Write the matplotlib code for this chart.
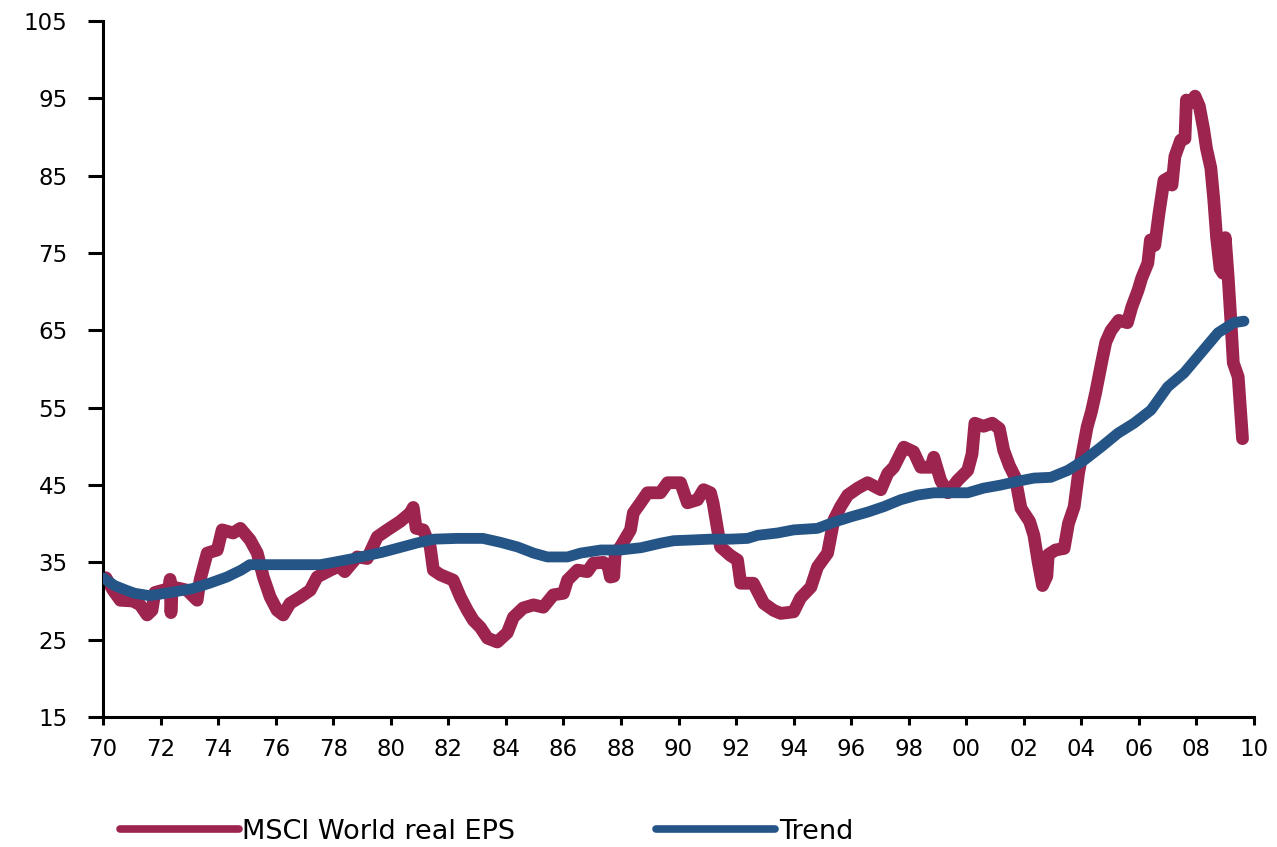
import matplotlib
matplotlib.use("Agg")
import matplotlib.pyplot as plt
from matplotlib.lines import Line2D

plt.rcParams['font.family'] = ['DejaVu Sans']

# MSCI World real EPS (year, value)
eps_year = [1970.0, 1970.1, 1970.35, 1970.6, 1971.04, 1971.29, 1971.53, 1971.7, 1971.8, 1972.09,
            1972.3, 1972.33, 1972.36, 1972.4, 1972.57, 1972.92, 1973.27, 1973.37, 1973.62, 1973.97,
            1974.14, 1974.52, 1974.77, 1975.11, 1975.36, 1975.57, 1975.81, 1976.05, 1976.26, 1976.5,
            1976.85, 1977.2, 1977.44, 1977.9, 1978.2, 1978.4, 1978.83, 1979.18, 1979.53, 1979.88,
            1980.33, 1980.68, 1980.78, 1980.88, 1981.13, 1981.37, 1981.48, 1981.72, 1982.17, 1982.42,
            1982.66, 1982.87, 1983.11, 1983.36, 1983.7, 1984.05, 1984.26, 1984.6, 1984.96, 1985.3,
            1985.65, 1986.0, 1986.14, 1986.49, 1986.83, 1987.04, 1987.39, 1987.55, 1987.63, 1987.75,
            1987.8, 1987.98, 1988.33, 1988.43, 1988.68, 1988.92, 1989.37, 1989.62, 1990.07, 1990.31,
            1990.66, 1990.87, 1991.11, 1991.2, 1991.46, 1991.8, 1992.05, 1992.16, 1992.6, 1992.96,
            1993.3, 1993.55, 1994.0, 1994.24, 1994.6, 1994.83, 1995.18, 1995.4, 1995.63, 1995.88,
            1996.23, 1996.57, 1997.03, 1997.27, 1997.48, 1997.83, 1998.17, 1998.42, 1998.77, 1998.87,
            1999.11, 1999.36, 1999.7, 2000.05, 2000.2, 2000.3, 2000.6, 2000.9, 2001.15, 2001.3,
            2001.5, 2001.7, 2001.9, 2002.2, 2002.35, 2002.5, 2002.65, 2002.8, 2002.85, 2003.1,
            2003.4, 2003.55, 2003.75, 2003.9, 2004.05, 2004.2, 2004.35, 2004.5, 2004.7, 2004.85,
            2005.03, 2005.3, 2005.6, 2005.75, 2005.97, 2006.1, 2006.31, 2006.4, 2006.55, 2006.7,
            2006.87, 2007.05, 2007.15, 2007.25, 2007.45, 2007.6, 2007.65, 2007.85, 2007.95, 2008.1,
            2008.25, 2008.35, 2008.5, 2008.6, 2008.7, 2008.82, 2008.92, 2009.0, 2009.1, 2009.2,
            2009.28, 2009.45, 2009.6]
eps_value = [33.0, 33.0, 31.4, 30.1, 30.0, 29.5, 28.2, 28.8, 31.1, 31.4,
             31.6, 32.8, 28.5, 31.5, 31.7, 31.4, 30.1, 32.7, 36.2, 36.6,
             39.2, 38.8, 39.4, 37.9, 36.2, 33.1, 30.5, 28.8, 28.2, 29.7,
             30.5, 31.4, 33.1, 34.0, 34.5, 33.8, 35.7, 35.5, 38.3, 39.2,
             40.3, 41.4, 42.1, 39.4, 39.2, 37.0, 34.0, 33.4, 32.7, 30.5,
             28.8, 27.5, 26.6, 25.2, 24.7, 25.9, 27.9, 29.1, 29.5, 29.2,
             30.8, 31.0, 32.7, 34.0, 33.8, 34.9, 35.0, 34.5, 33.1, 33.2,
             36.2, 37.0, 39.2, 41.4, 42.7, 44.0, 44.0, 45.3, 45.3, 42.7,
             43.1, 44.4, 44.0, 42.7, 37.0, 35.9, 35.3, 32.3, 32.3, 29.7,
             28.8, 28.4, 28.6, 30.4, 31.8, 34.4, 36.2, 40.5, 42.2, 43.7,
             44.6, 45.3, 44.4, 46.5, 47.3, 49.9, 49.3, 47.3, 47.3, 48.6,
             45.6, 44.0, 45.6, 46.9, 49.0, 53.0, 52.6, 53.0, 52.3, 49.5,
             47.5, 46.0, 42.0, 40.3, 38.5, 35.0, 32.0, 33.2, 36.0, 36.6,
             36.8, 40.0, 42.2, 46.5, 49.5, 52.5, 54.5, 57.0, 60.8, 63.5,
             65.0, 66.3, 66.0, 68.0, 70.2, 71.8, 73.7, 76.7, 76.0, 80.2,
             84.4, 84.8, 83.8, 87.5, 89.6, 89.8, 94.8, 94.5, 95.3, 94.0,
             91.0, 88.5, 86.0, 82.0, 77.0, 73.0, 72.4, 77.0, 72.0, 66.0,
             60.8, 59.0, 51.0]

# Long-run trend (year, value)
trend_year = [1970.0, 1970.4, 1970.8, 1971.1, 1971.6, 1972.0, 1972.5, 1973.1, 1973.7, 1974.3,
              1974.8, 1975.1, 1976.5, 1977.55, 1978.0, 1978.7, 1979.7, 1980.9, 1981.5, 1982.3,
              1983.2, 1983.8, 1984.4, 1984.96, 1985.44, 1986.14, 1986.6, 1987.3, 1987.98, 1988.7,
              1989.4, 1989.83, 1990.5, 1991.1, 1991.8, 1992.4, 1992.75, 1993.44, 1994.0, 1994.83,
              1995.4, 1996.0, 1996.57, 1997.13, 1997.72, 1998.3, 1998.87, 2000.05, 2000.6, 2001.2,
              2001.8, 2002.35, 2002.94, 2003.53, 2004.09, 2004.68, 2005.27, 2005.83, 2006.42, 2007.0,
              2007.57, 2008.16, 2008.75, 2009.3, 2009.65]
trend_value = [33.0, 32.0, 31.4, 31.0, 30.7, 30.9, 31.2, 31.6, 32.3, 33.1,
               34.0, 34.7, 34.7, 34.7, 35.0, 35.5, 36.3, 37.5, 38.0, 38.1,
               38.1, 37.6, 37.0, 36.2, 35.7, 35.7, 36.2, 36.6, 36.6, 36.9,
               37.5, 37.8, 37.9, 38.0, 38.0, 38.1, 38.5, 38.8, 39.2, 39.4,
               40.2, 40.9, 41.5, 42.2, 43.1, 43.7, 44.0, 44.0, 44.6, 45.0,
               45.5, 45.9, 46.0, 46.9, 48.2, 49.9, 51.7, 53.0, 54.7, 57.7,
               59.5, 62.1, 64.7, 66.0, 66.2]

x_ticks = list(range(1970, 2011, 2))
x_tick_labels = [f"{y % 100:02d}" for y in x_ticks]
y_ticks = list(range(15, 106, 10))

eps_color = "#9C244F"
trend_color = "#255586"

fig = plt.figure(figsize=(12.77, 8.47), dpi=100)
ax = fig.add_axes([0.0807, 0.1535, 0.9013, 0.8215])

ax.plot(eps_year, eps_value, color=eps_color, lw=9.2,
        solid_capstyle="round", solid_joinstyle="round", zorder=2)
ax.plot(trend_year, trend_value, color=trend_color, lw=7.8,
        solid_capstyle="round", solid_joinstyle="round", zorder=3)

ax.set_xlim(1970, 2010)
ax.set_ylim(15, 105)
ax.set_xticks(x_ticks)
ax.set_xticklabels(x_tick_labels)
ax.set_yticks(y_ticks)

for side in ("top", "right"):
    ax.spines[side].set_visible(False)
for side in ("left", "bottom"):
    ax.spines[side].set_linewidth(2.2)
    ax.spines[side].set_color("black")

ax.tick_params(axis="y", direction="out", length=10.5, width=2.2, pad=15,
               labelsize=16.5, colors="black")
ax.tick_params(axis="x", direction="out", length=6, width=2.2, pad=9,
               labelsize=16.5, colors="black")

handles = [Line2D([], [], color=eps_color, lw=5.5, solid_capstyle="round"),
           Line2D([], [], color=trend_color, lw=5.5, solid_capstyle="round")]
fig.legend(handles, ["MSCI World real EPS", "Trend"], loc="center left",
           bbox_to_anchor=(0.094, 0.018), ncol=2, frameon=False,
           fontsize=19.5, handlelength=4.4, handletextpad=0.12,
           columnspacing=5.2, borderaxespad=0, borderpad=0)

fig.savefig("out.png", dpi=100, facecolor="white")
